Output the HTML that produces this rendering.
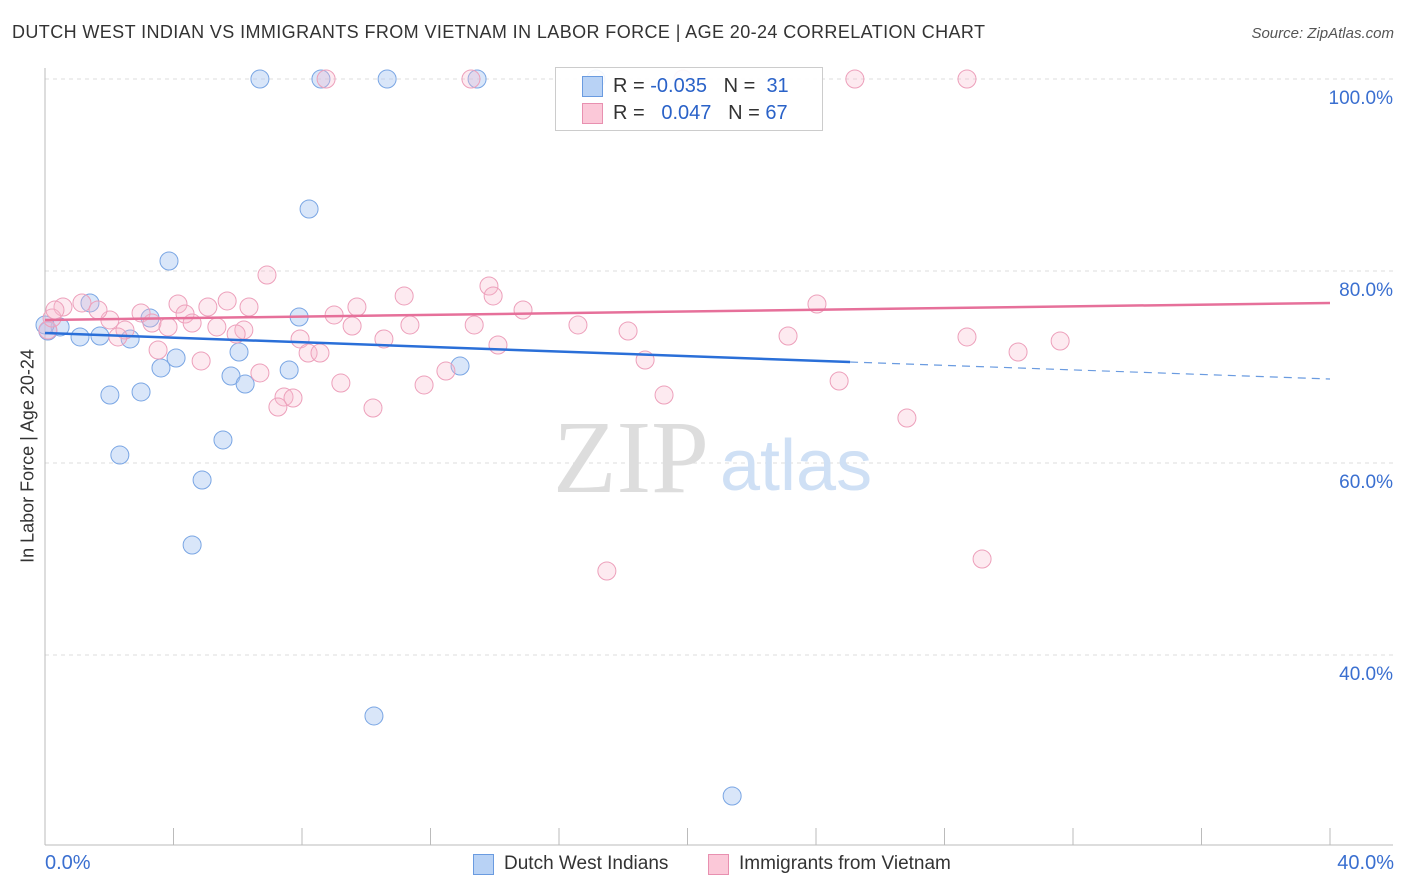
<!DOCTYPE html>
<html><head><meta charset="utf-8"><style>
body{margin:0;background:#fff;font-family:"Liberation Sans",sans-serif;}
#wrap{position:relative;width:1406px;height:892px;overflow:hidden;}
.t{position:absolute;white-space:nowrap;}
</style></head><body>
<div id="wrap">
<div class="t" style="left:12px;top:22px;font-size:18px;letter-spacing:0.4px;color:#333;">DUTCH WEST INDIAN VS IMMIGRANTS FROM VIETNAM IN LABOR FORCE | AGE 20-24 CORRELATION CHART</div>
<div class="t" style="right:12px;top:25px;font-size:15px;color:#555;font-style:italic;">Source: ZipAtlas.com</div>
<svg id="svg" width="1406" height="892" style="position:absolute;left:0;top:0"></svg>
</div>
<script>
const blueX=[6.69,8.59,10.65,13.45,17.15,8.22,3.86,1.40,3.27,7.91,0.09,0.47,1.09,1.71,2.65,4.08,3.61,6.04,5.79,6.23,7.60,12.92,2.02,2.99,5.54,2.33,4.89,4.58,10.24,21.39,0.0];
const blueY=[100,100,100,100,100,86.46,81.04,76.67,75.10,75.21,73.75,74.17,73.13,73.23,72.92,70.94,69.90,71.56,69.06,68.23,69.69,70.10,67.08,67.40,62.40,60.83,58.23,51.46,33.65,25.31,74.38];
const pinkX=[8.75,13.26,19.86,25.21,28.70,6.91,13.82,13.95,11.18,4.14,5.07,5.67,6.35,9.71,14.88,24.03,2.99,4.36,9.00,2.02,3.33,4.58,5.35,6.19,3.83,11.36,13.36,16.59,9.56,18.15,2.49,2.27,5.95,7.94,10.55,23.13,28.70,31.60,14.10,8.19,8.56,3.52,4.86,18.68,30.29,6.69,9.21,12.48,11.80,7.44,7.72,7.25,10.21,19.27,24.72,26.83,17.49,29.17,0.09,0.56,1.15,1.65,0.22,0.31];
const pinkY=[100,100,100,100,100,79.58,78.44,77.40,77.40,76.56,76.25,76.88,76.25,76.25,75.94,76.56,75.63,75.52,75.42,74.90,74.58,74.58,74.17,73.85,74.17,74.38,74.38,74.38,74.27,73.75,73.85,73.13,73.44,72.92,72.92,73.23,73.13,72.71,72.29,71.46,71.46,71.77,70.63,70.73,71.56,69.38,68.33,69.58,68.13,66.88,66.77,65.83,65.73,67.08,68.54,64.69,48.75,50.00,73.85,76.25,76.67,75.94,75.10,75.94];
const yTicks=[100,80,60,40];
const yTickLabels=["100.0%","80.0%","60.0%","40.0%"];
const blueTrend=[[0,73.54],[25.06,70.52],[40,68.75]];
const pinkTrend=[[0,74.9],[40,76.67]];
const xs=v=>45+v/40*1285, ys=v=>79+(100-v)*9.6;
const svg=document.getElementById('svg'),NS='http://www.w3.org/2000/svg';
function mk(tag,at,name){const e=document.createElementNS(NS,tag);for(const k in at)e.setAttribute(k,at[k]);


svg.appendChild(e);return e;}
yTicks.forEach((v,i)=>{mk('line',{x1:45,x2:1393,y1:ys(v),y2:ys(v),stroke:'#ddd','stroke-dasharray':'4,4'},'gridline');
const t=mk('text',{x:1393,y:ys(v)+25,'text-anchor':'end','font-size':19,fill:'#3a6fd0','font-family':'Liberation Sans'},'y-tick-label');t.textContent=yTickLabels[i];});
mk('line',{x1:45,x2:45,y1:68,y2:845,stroke:'#bbb'},'y-axis');
mk('line',{x1:45,x2:1393,y1:845,y2:845,stroke:'#bbb'},'x-axis');
for(let i=0;i<=10;i++)mk('line',{x1:xs(i*4),x2:xs(i*4),y1:828,y2:845,stroke:'#bbb'},'x-tick');
const wz=mk('text',{x:553,y:492,'font-size':104,fill:'#ddd','font-family':'Liberation Serif'},'watermark-zip');wz.textContent='ZIP';
const wa=mk('text',{x:720,y:490,'font-size':72,fill:'#cfe0f5','font-family':'Liberation Sans'},'watermark-atlas');wa.textContent='atlas';
blueX.forEach((x,i)=>mk('circle',{cx:xs(x),cy:ys(blueY[i]),r:9,fill:'rgba(170,200,242,0.45)',stroke:'#7aa6e4','stroke-width':1},'blue-point'));
pinkX.forEach((x,i)=>mk('circle',{cx:xs(x),cy:ys(pinkY[i]),r:9,fill:'rgba(248,185,205,0.3)',stroke:'#eda0bb','stroke-width':1},'pink-point'));
mk('line',{x1:xs(blueTrend[0][0]),y1:ys(blueTrend[0][1]),x2:xs(blueTrend[1][0]),y2:ys(blueTrend[1][1]),stroke:'#2a6fd8','stroke-width':2.5},'blue-trend-line');
mk('line',{x1:xs(blueTrend[1][0]),y1:ys(blueTrend[1][1]),x2:xs(blueTrend[2][0]),y2:ys(blueTrend[2][1]),stroke:'#6a9be0','stroke-width':1.2,'stroke-dasharray':'8,6'},'blue-trend-extension');
mk('line',{x1:xs(pinkTrend[0][0]),y1:ys(pinkTrend[0][1]),x2:xs(pinkTrend[1][0]),y2:ys(pinkTrend[1][1]),stroke:'#e6709a','stroke-width':2.5},'pink-trend-line');
</script>
<div class="t" style="left:555px;top:67px;width:266px;height:62px;border:1px solid #ccc;background:rgba(255,255,255,0.9);font-size:20px;">
<div style="position:absolute;left:26px;top:8px;width:19px;height:19px;background:#b8d2f5;border:1px solid #6a9be0"></div>
<div style="position:absolute;left:26px;top:35px;width:19px;height:19px;background:#fbc8d8;border:1px solid #e890b0"></div>
<div class="t" style="left:57px;top:7px;color:#333">R = <span style="color:#2a62c8">-0.035</span>&nbsp;&nbsp;&nbsp;N = &nbsp;<span style="color:#2a62c8">31</span></div>
<div class="t" style="left:57px;top:34px;color:#333">R = &nbsp;&nbsp;<span style="color:#2a62c8">0.047</span>&nbsp;&nbsp;&nbsp;N = <span style="color:#2a62c8">67</span></div>
</div>
<div class="t" style="left:28px;top:456px;font-size:18px;color:#333;transform:translate(-50%,-50%) rotate(-90deg);">In Labor Force | Age 20-24</div>
<div class="t" style="left:45px;top:852px;font-size:20px;color:#3a6fd0;">0.0%</div>
<div class="t" style="right:12px;top:852px;font-size:20px;color:#3a6fd0;">40.0%</div>
<div style="position:absolute;left:473px;top:854px;width:19px;height:19px;background:#b8d2f5;border:1px solid #6a9be0"></div>
<div class="t" style="left:504px;top:853px;font-size:19px;color:#333;">Dutch West Indians</div>
<div style="position:absolute;left:708px;top:854px;width:19px;height:19px;background:#fbc8d8;border:1px solid #e890b0"></div>
<div class="t" style="left:739px;top:853px;font-size:19px;color:#333;">Immigrants from Vietnam</div>
</body></html>
